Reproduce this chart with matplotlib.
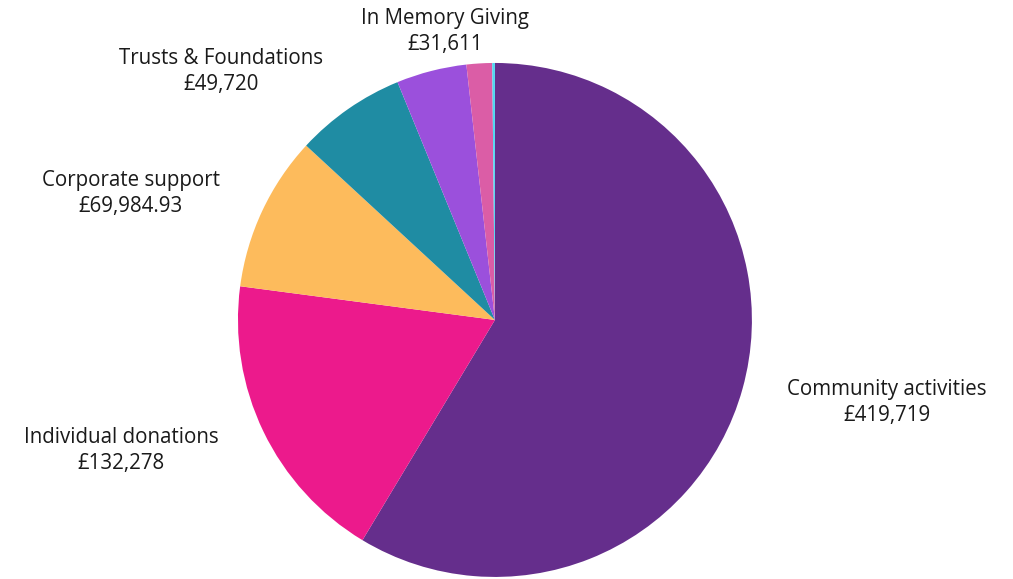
import numpy as np
import matplotlib.pyplot as plt

plt.rcParams["font.family"] = ["Open Sans", "DejaVu Sans"]

categories = ["Community activities", "Individual donations", "Corporate support",
              "Trusts & Foundations", "In Memory Giving", "Other", "Other 2"]
amounts = [419719, 132278, 69984.93, 49720, 31611, 11500, 1200]
value_labels = ["£419,719", "£132,278", "£69,984.93", "£49,720", "£31,611", "", ""]
colors = ["#652E8C", "#EC1A8C", "#FDBB5C", "#1F8CA3", "#9B50DC", "#DB5DA6", "#4FD8F0"]
show_label = [True, True, True, True, True, False, False]
# label placement: (radius factor, angle shift in degrees) per slice
label_place = [(1.56, 3.6), (1.54, -6.5), (1.50, 6.0), (1.44, 13.0), (1.14, -4.5), (0, 0), (0, 0)]

fig = plt.figure(figsize=(10.13, 5.79), dpi=100)
ax = fig.add_axes([0, 0, 1, 1])

wedges, _ = ax.pie(amounts, colors=colors, startangle=90, counterclock=False,
                   radius=1.0, wedgeprops=dict(linewidth=0))

for w, cat, val, show, (rf, shift) in zip(wedges, categories, value_labels, show_label, label_place):
    if not show:
        continue
    ang = np.deg2rad((w.theta1 + w.theta2) / 2 + shift)
    x, y = rf * np.cos(ang), rf * np.sin(ang)
    ax.text(x, y, f"{cat}\n{val}", ha="center", va="center", fontsize=14.8,
            color="#1a1a1a", linespacing=1.33)

ax.set_xlim(-1.926, 2.016)
ax.set_ylim(-1.008, 1.245)
ax.set_aspect("auto")
ax.axis("off")

fig.savefig("out.png", dpi=100, facecolor="white")
